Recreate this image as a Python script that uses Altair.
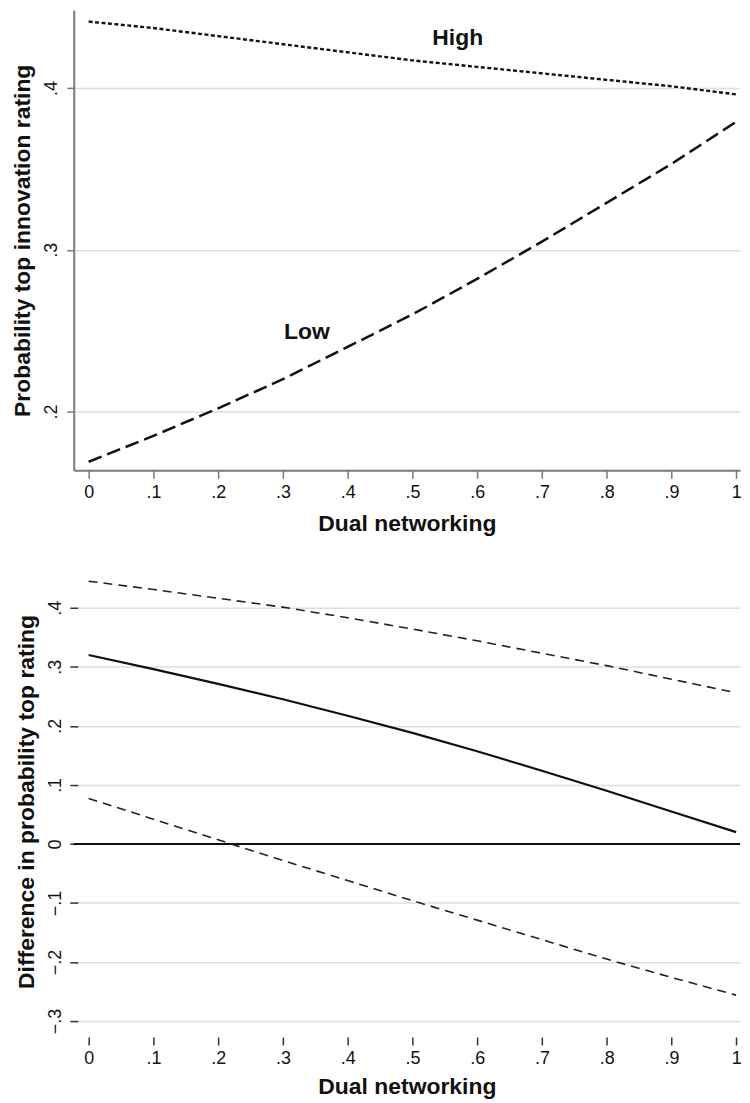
import altair as alt
import pandas as pd

# ---- data ----
x_vals = [0, 0.1, 0.2, 0.3, 0.4, 0.5, 0.6, 0.7, 0.8, 0.9, 1.0]

# top panel: predicted probability of top innovation rating
high_prob = [0.441, 0.437, 0.432, 0.427, 0.422, 0.417, 0.413, 0.409, 0.405, 0.401, 0.396]
low_prob = [0.169, 0.185, 0.202, 0.220, 0.240, 0.260, 0.282, 0.305, 0.329, 0.353, 0.379]

# bottom panel: difference and confidence bounds
diff_est = [0.320, 0.296, 0.271, 0.245, 0.217, 0.188, 0.157, 0.124, 0.090, 0.055, 0.020]
diff_upper = [0.445, 0.431, 0.416, 0.401, 0.383, 0.364, 0.344, 0.323, 0.302, 0.279, 0.256]
diff_lower = [0.077, 0.042, 0.007, -0.028, -0.062, -0.096, -0.129, -0.162, -0.195, -0.226, -0.256]

label_text = ["High", "Low"]
label_x = [0.57, 0.337]
label_y = [0.431, 0.249]

x_ticks = [0, 0.1, 0.2, 0.3, 0.4, 0.5, 0.6, 0.7, 0.8, 0.9, 1.0]
top_y_ticks = [0.2, 0.3, 0.4]
bot_y_ticks = [-0.3, -0.2, -0.1, 0, 0.1, 0.2, 0.3, 0.4]
zero_line = [0]

FONT = "Liberation Sans"
INK = "#111111"
GRID = "#dedede"
AXIS_GRAY = "#7a7a7a"
TITLE_SIZE = 23
LABEL_SIZE = 18

LABEL_EXPR = ("datum.value == 0 ? '0' : (datum.value == 1 ? '1' : "
              "replace(format(datum.value, '.1f'), '0.', '.'))")

x_scale = alt.Scale(domain=[-0.023, 1.006], nice=False, zero=False)


def series_df(vals):
    return pd.DataFrame({"x": x_vals, "y": vals})


# ---------------- top panel ----------------
top_y_scale = alt.Scale(domain=[0.1637, 0.448], nice=False, zero=False)

top_x_axis = alt.Axis(
    values=x_ticks, labelExpr=LABEL_EXPR, title="Dual networking",
    grid=False, domain=True, domainColor=AXIS_GRAY, domainWidth=2,
    tickColor=AXIS_GRAY, tickWidth=1.5, tickSize=8,
    labelFontSize=LABEL_SIZE, labelFont=FONT, labelColor=INK, labelPadding=5,
    titleFontSize=TITLE_SIZE, titleFont=FONT, titleFontWeight="bold", titleColor=INK,
    titlePadding=11,
)
top_y_axis = alt.Axis(
    values=top_y_ticks, labelExpr=LABEL_EXPR, title="Probability top innovation rating",
    grid=True, gridColor=GRID, gridWidth=1.5,
    domain=True, domainColor=AXIS_GRAY, domainWidth=2,
    tickColor=AXIS_GRAY, tickWidth=1.5, tickSize=7,
    labelFontSize=LABEL_SIZE, labelFont=FONT, labelColor=INK, labelAngle=270,
    labelAlign="center", labelBaseline="bottom", labelPadding=6,
    titleFontSize=TITLE_SIZE, titleFont=FONT, titleFontWeight="bold", titleColor=INK,
    titlePadding=8,
)

high_line = alt.Chart(series_df(high_prob)).mark_line(
    color=INK, strokeWidth=2.4, strokeDash=[4, 2.5]
).encode(
    x=alt.X("x:Q", scale=x_scale, axis=top_x_axis),
    y=alt.Y("y:Q", scale=top_y_scale, axis=top_y_axis),
)
low_line = alt.Chart(series_df(low_prob)).mark_line(
    color=INK, strokeWidth=2.5, strokeDash=[14, 6]
).encode(
    x=alt.X("x:Q", scale=x_scale),
    y=alt.Y("y:Q", scale=top_y_scale),
)
labels = alt.Chart(pd.DataFrame({"t": label_text, "x": label_x, "y": label_y})).mark_text(
    font=FONT, fontSize=TITLE_SIZE, fontWeight="bold", color=INK, align="center", baseline="middle"
).encode(
    x=alt.X("x:Q", scale=x_scale),
    y=alt.Y("y:Q", scale=top_y_scale),
    text="t:N",
)

top = alt.layer(high_line, low_line, labels).properties(width=669, height=462)

# ---------------- bottom panel ----------------
bot_y_scale = alt.Scale(domain=[-0.3118, 0.4556], nice=False, zero=False)

bot_x_axis = alt.Axis(
    values=x_ticks, labelExpr=LABEL_EXPR, title="Dual networking",
    grid=False, domain=False, offset=9,
    tickColor="#333333", tickWidth=1.5, tickSize=8,
    labelFontSize=LABEL_SIZE, labelFont=FONT, labelColor=INK, labelPadding=5,
    titleFontSize=TITLE_SIZE, titleFont=FONT, titleFontWeight="bold", titleColor=INK,
    titlePadding=8,
)
bot_y_axis = alt.Axis(
    values=bot_y_ticks, labelExpr=LABEL_EXPR, title="Difference in probability top rating",
    grid=True, gridColor=GRID, gridWidth=1.5, domain=False, offset=-4,
    tickColor="#333333", tickWidth=1.5, tickSize=8,
    labelFontSize=LABEL_SIZE, labelFont=FONT, labelColor=INK, labelAngle=270,
    labelAlign="center", labelBaseline="bottom", labelPadding=5,
    titleFontSize=TITLE_SIZE, titleFont=FONT, titleFontWeight="bold", titleColor=INK,
    titlePadding=8,
)

zero = alt.Chart(pd.DataFrame({"y": zero_line})).mark_rule(
    color=INK, strokeWidth=2
).encode(y=alt.Y("y:Q", scale=bot_y_scale))

est_line = alt.Chart(series_df(diff_est)).mark_line(color=INK, strokeWidth=2.2).encode(
    x=alt.X("x:Q", scale=x_scale, axis=bot_x_axis),
    y=alt.Y("y:Q", scale=bot_y_scale, axis=bot_y_axis),
)
up_line = alt.Chart(series_df(diff_upper)).mark_line(
    color="#222222", strokeWidth=1.6, strokeDash=[9, 6]
).encode(x=alt.X("x:Q", scale=x_scale), y=alt.Y("y:Q", scale=bot_y_scale))
lo_line = alt.Chart(series_df(diff_lower)).mark_line(
    color="#222222", strokeWidth=1.6, strokeDash=[9, 6]
).encode(x=alt.X("x:Q", scale=x_scale), y=alt.Y("y:Q", scale=bot_y_scale))

bottom = alt.layer(est_line, zero, up_line, lo_line).properties(width=669, height=455)

chart = alt.vconcat(top, bottom, spacing=40).properties(
    padding={"left": 4, "top": 0, "right": 0, "bottom": 0},
    background="white",
).configure_view(stroke=None)

chart.save("out.html", embed_options={"renderer": "svg", "actions": False})
